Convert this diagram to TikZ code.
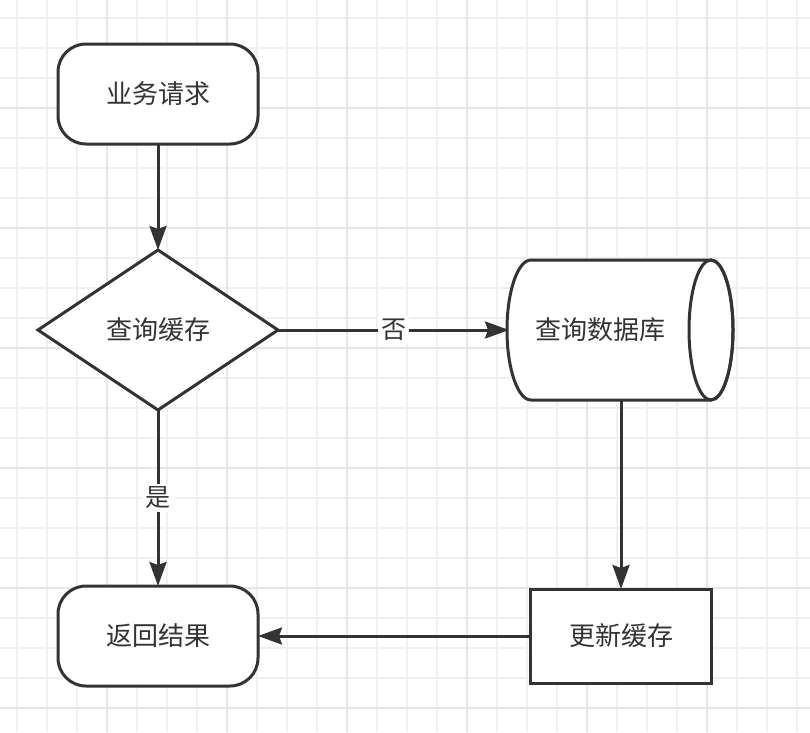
\documentclass[tikz,border=0pt]{standalone}
\usepackage{fontspec}
\newfontfamily\cjk{Noto Sans CJK SC}
\usetikzlibrary{shapes.geometric,arrows.meta}
\definecolor{ink}{HTML}{333333}
\definecolor{gridminor}{HTML}{F0F0F0}
\definecolor{gridmajor}{HTML}{E6E6E6}
\tikzset{
  base/.style={draw=ink, line width=3pt, fill=white, text=ink, font=\cjk\fontsize{26}{30}\selectfont, inner sep=0pt, outer sep=0pt},
  term/.style={base, rectangle, rounded corners=28pt, minimum width=200pt, minimum height=100pt},
  decision/.style={base, diamond, aspect=1.5, minimum width=240pt, minimum height=160pt},
  procbox/.style={base, rectangle, minimum width=181pt, minimum height=94pt},
  cylbox/.style={rectangle, draw=none, minimum width=224pt, minimum height=140pt, inner sep=0pt, outer sep=0pt},
  txt/.style={text=ink, font=\cjk\fontsize{26}{30}\selectfont, inner sep=0pt},
  lbl/.style={fill=white, text=ink, font=\cjk\fontsize{25}{30}\selectfont, inner sep=3pt},
  arr/.style={draw=ink, line width=3pt, -{Stealth[length=24pt, width=17pt, inset=3pt]}},
}
\begin{document}
\begin{tikzpicture}[x=1pt,y=-1pt]
\useasboundingbox (0,0) rectangle (810,732);
\fill[white] (0,0) rectangle (810,732);
% grid
\foreach \gx in {17,47,...,797} {\draw[gridminor, line width=1.5pt] (\gx,0) -- (\gx,732);}
\foreach \gy in {18,48,...,728} {\draw[gridminor, line width=1.5pt] (0,\gy) -- (810,\gy);}
\foreach \gx in {107,227,...,707} {\draw[gridmajor, line width=2.5pt] (\gx,0) -- (\gx,732);}
\foreach \gy in {108,228,...,708} {\draw[gridmajor, line width=2.5pt] (0,\gy) -- (810,\gy);}
% nodes
\node[term] (req) at (158,94) {业务请求};
\node[decision] (dec) at (158,330) {查询缓存};
\node[cylbox] (db) at (621,330) {};
\draw[draw=ink, line width=3pt, fill=white, line join=round]
  (531,260) -- (711,260)
  arc[start angle=90, end angle=-90, x radius=22pt, y radius=70pt]
  -- (531,400)
  arc[start angle=270, end angle=90, x radius=24pt, y radius=70pt] -- cycle;
\draw[draw=ink, line width=3pt] (711,330) ellipse[x radius=22pt, y radius=70pt];
\node[txt] at ([xshift=-21pt]db.center) {查询数据库};
\node[procbox] (upd) at (621,636) {更新缓存};
\node[term] (ret) at (158,636) {返回结果};
% connectors
\draw[arr] (req) -- (dec);
\draw[arr] (dec) -- node[lbl] {否} (db);
\draw[arr] (dec) -- node[lbl] {是} (ret);
\draw[arr] (db.south) -- (upd);
\draw[arr] (upd) -- (ret);
\end{tikzpicture}
\end{document}
